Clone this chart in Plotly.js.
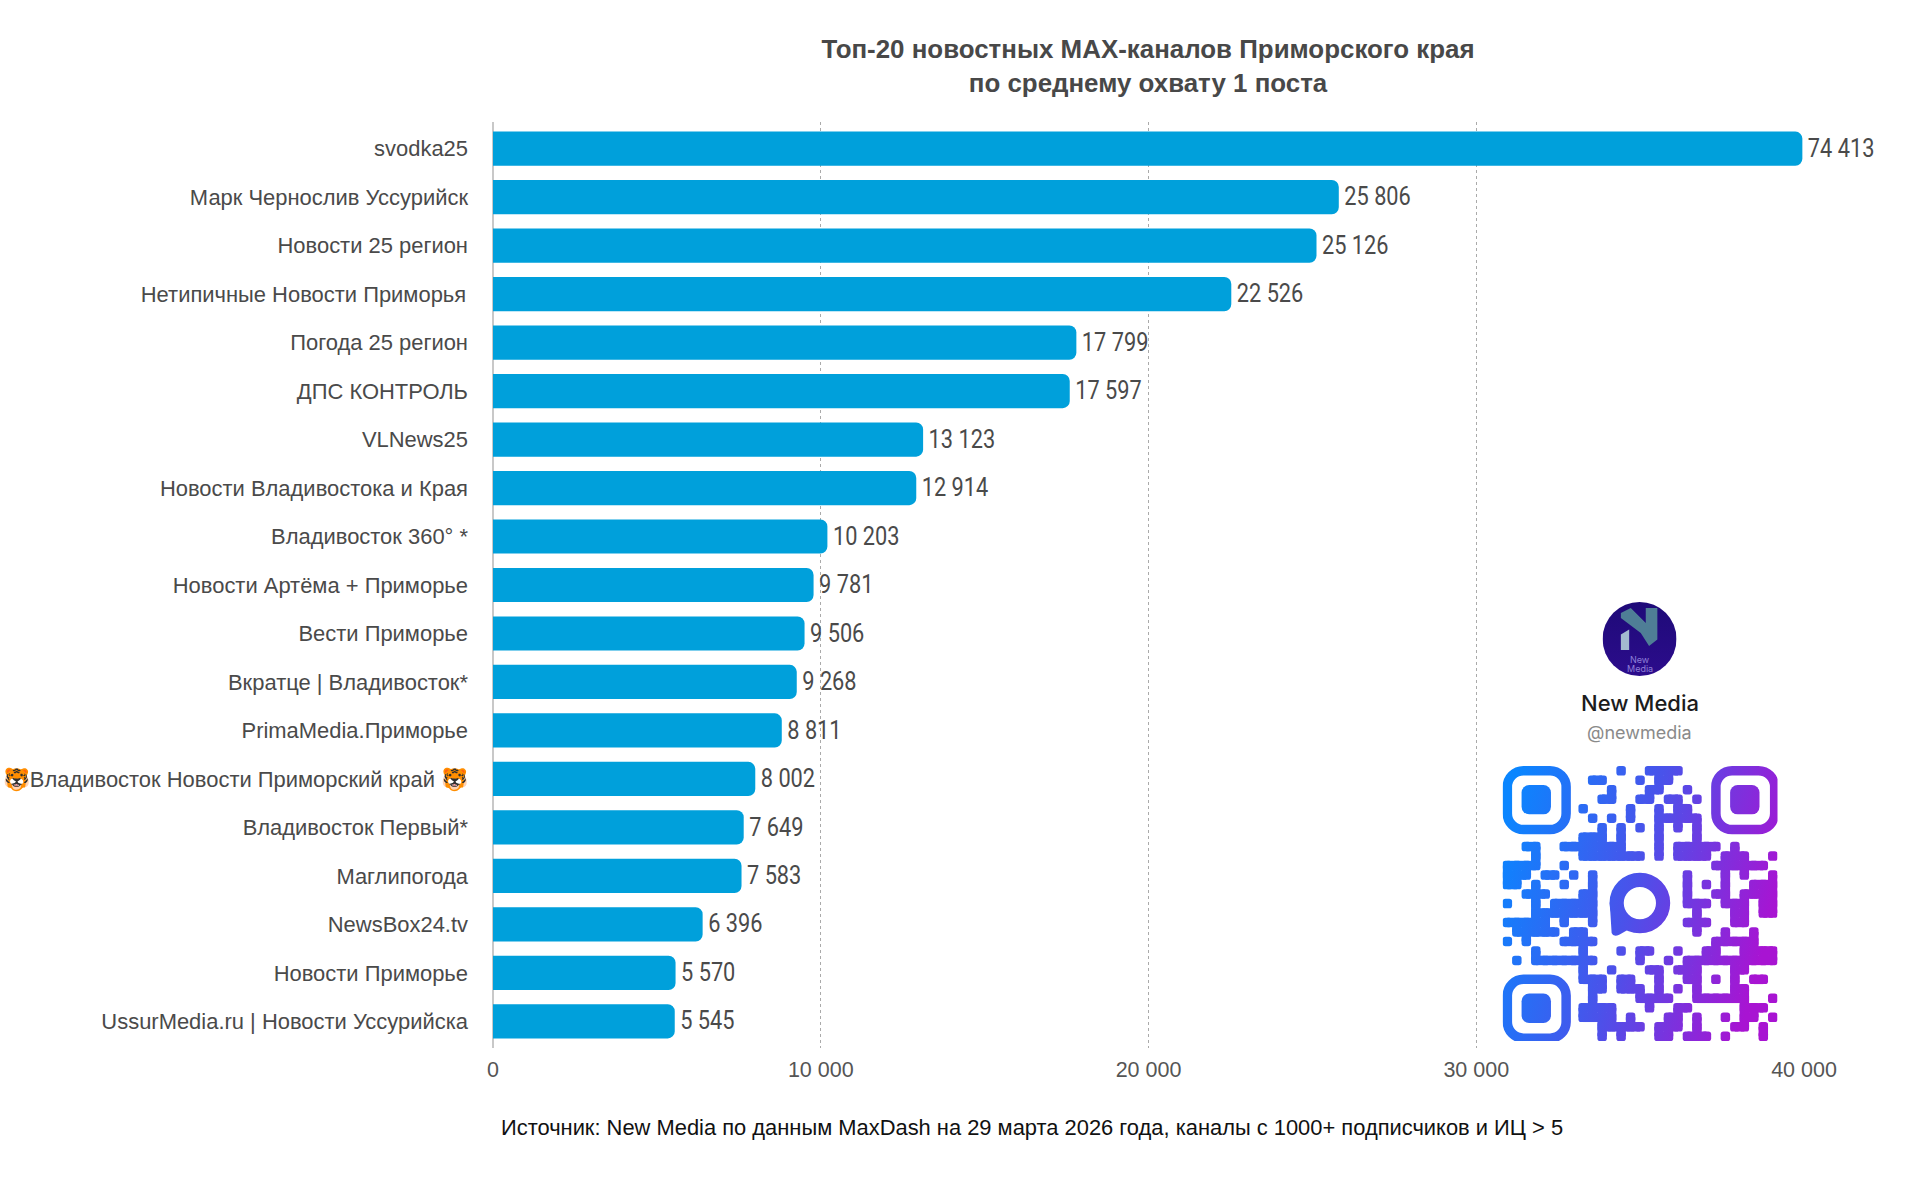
<!DOCTYPE html>
<html><head><meta charset="utf-8">
<script src="https://cdn.plot.ly/plotly-3.0.1.min.js"></script>
<style>html,body{margin:0;padding:0;background:#fff}#c{width:1920px;height:1194px}</style>
</head><body><div id="c"></div>
<script>
var categories = ["svodka25","Марк Чернослив Уссурийск","Новости 25 регион","Нетипичные Новости Приморья\u200A","Погода 25 регион","ДПС КОНТРОЛЬ","VLNews25","Новости Владивостока и Края","Владивосток 360° *","Новости Артёма + Приморье","Вести Приморье","Вкратце | Владивосток*","PrimaMedia.Приморье","🐯Владивосток Новости Приморский край 🐯","Владивосток Первый*","Маглипогода","NewsBox24.tv","Новости Приморье","UssurMedia.ru | Новости Уссурийска"];
var values = [74413,25806,25126,22526,17799,17597,13123,12914,10203,9781,9506,9268,8811,8002,7649,7583,6396,5570,5545];
var axisCap = 39950;
var tickValues = [0,10000,20000,30000,40000];
var tickLabels = ["0","10 000","20 000","30 000","40 000"];
var qrModules = [
[12,15,16,17,18],
[9,10,14,16,17],
[11,15,16,19],
[10,11,14,15,17,18,20],
[8,13,16,18,19],
[9,11,13,16,17,18,19,20],
[10,12,14,16,18,20],
[8,9,10,12,16,20],
[2,3,6,7,8,9,10,11,12,16,18,19,20,21,22,24],
[3,8,9,10,11,12,13,14,16,18,19,20,21,23,24,25,28],
[0,1,2,3,6,22,23,24,25,26,27],
[0,1,2,4,5,7,9,19,23,25,28],
[0,1,3,6,9,19,21,23,26,27,28],
[2,3,4,8,9,19,22,23,25,26,27,28],
[0,3,5,6,7,8,9,19,20,21,23,24,25,27,28],
[3,4,5,6,7,8,9,20,24,25,27,28],
[0,1,2,3,4,6,9,19,20,21,24,25],
[1,2,3,4,5,7,8,20,23,26],
[0,2,6,7,8,9,22,23,24,25,26],
[3,8,12,14,15,18,21,22,25,26,27,28],
[1,3,4,5,6,7,8,9,14,17,19,20,21,22,23,24,25,26,27,28],
[8,11,15,16,18,19,20,24,25],
[8,9,10,12,13,16,19,20,22,24,26,27],
[9,10,12,13,14,16,18,20,24,25],
[9,14,15,16,17,20,21,22,23,24,25,28],
[8,9,10,11,15,18,19,25,26,27],
[8,9,10,11,13,17,18,20,23,25,26,28],
[10,11,12,13,14,16,17,18,20,24,25,27],
[10,12,16,17,19,20,21,23,27]
];
var qrSize = 29;

function qrSvg(){
  var rects = '';
  function on(r,c){ return r>=0 && r<qrSize && qrModules[r].indexOf(c)>=0; }
  for(var r=0;r<qrSize;r++){ for(var c=0;c<qrSize;c++){
    if(!on(r,c)) continue;
    rects += '<rect x="'+c+'" y="'+r+'" width="1" height="1" rx="0.3"/>';
    if(on(r,c+1)) rects += '<rect x="'+(c+0.5)+'" y="'+r+'" width="1" height="1"/>';
    if(on(r+1,c)) rects += '<rect x="'+c+'" y="'+(r+0.5)+'" width="1" height="1"/>';
  }}
  function finder(x,y){
    return '<rect x="'+(x+0.5)+'" y="'+(y+0.5)+'" width="6.2" height="6.2" rx="1.7" fill="none" stroke="url(#g)" stroke-width="1"/>'+
           '<rect x="'+(x+2)+'" y="'+(y+2)+'" width="3.1" height="3.1" rx="0.8"/>';
  }
  var logo = '<circle cx="14.48" cy="14.45" r="2.45" fill="none" stroke="url(#g)" stroke-width="1.5"/>'+
             '<path d="M11.3 14.4 L11.5 17.6 Q11.7 18.1 12.3 17.8 L14.4 16.6 Z"/>';
  var svg = '<svg xmlns="http://www.w3.org/2000/svg" viewBox="0 0 29 29" width="825" height="825">'+
    '<defs><linearGradient id="g" gradientUnits="userSpaceOnUse" x1="0" y1="6" x2="29" y2="14">'+
    '<stop offset="0" stop-color="#0a86ff"/><stop offset="0.5" stop-color="#4a52ea"/><stop offset="1" stop-color="#a814d2"/></linearGradient></defs>'+
    '<g fill="url(#g)">'+rects+finder(0,0)+finder(22,0)+finder(0,22)+logo+'</g></svg>';
  return 'data:image/svg+xml;charset=utf-8,'+encodeURIComponent(svg);
}
function avatarSvg(){
  var svg = '<svg xmlns="http://www.w3.org/2000/svg" viewBox="0 0 74 74" width="296" height="296">'+
    '<defs><linearGradient id="a" x1="0" y1="0" x2="0" y2="1"><stop offset="0" stop-color="#1e0a78"/><stop offset="1" stop-color="#2c0c8c"/></linearGradient></defs>'+
    '<circle cx="37" cy="37" r="37" fill="url(#a)"/>'+
    '<path d="M18.3 11 L28.2 6 L43.2 21 L43.2 6 L54.8 6 L54.8 37.5 L46.5 44 L38.2 31 L18.3 16 Z" fill="#4f7e96"/>'+
    '<path d="M18.3 32.5 L26.6 27.5 L26.6 48 L18.3 48 Z" fill="#a3b9cf"/></svg>';
  return 'data:image/svg+xml;charset=utf-8,'+encodeURIComponent(svg);
}

var L=493,R=1804.5,T=122,B=1048;
function px(x){return (x-L)/(R-L);}
function py(y){return (B-y)/(B-T);}

var shown = values.map(function(v){return Math.min(v,axisCap);});
var labels = values.map(function(v){return String(v).replace(/\B(?=(\d{3})+$)/g,' ');});

var trace = {type:'bar',orientation:'h',y:categories,x:shown,text:labels,
  textposition:'outside',cliponaxis:false,textangle:0,constraintext:'none',
  textfont:{family:'Roboto,sans-serif',size:25,color:'#4a4a4a'},
  marker:{color:'#00a0db',cornerradius:7,line:{width:0}},hoverinfo:'skip'};

function note(text,x,y,size,color,family,weight){
  return {text:text,xref:'paper',yref:'paper',x:px(x),y:py(y),xanchor:'center',yanchor:'middle',showarrow:false,
    font:{family:family||'"Liberation Sans",sans-serif',size:size,color:color,weight:weight||400}};
}

var layout = {
  width:1920,height:1194,paper_bgcolor:'#fff',plot_bgcolor:'#fff',showlegend:false,
  margin:{l:L,r:1920-R,t:T,b:1194-B,pad:0},
  bargap:0.295,
  font:{family:'"Liberation Sans",sans-serif',color:'#4a4a4a'},
  title:{text:'Топ-20 новостных MAX-каналов Приморского края<br>по среднему охвату 1 поста',
    x:1148/1920,xanchor:'center',xref:'container',y:1-58/1194,yanchor:'middle',
    font:{family:'"Liberation Sans",sans-serif',size:25.9,weight:700,color:'#484848'}},
  xaxis:{range:[0,40000],tickvals:tickValues,ticktext:tickLabels,tickmode:'array',
    tickfont:{size:21.5,color:'#555555'},showgrid:true,gridcolor:'#aaaaaa',griddash:'dot',gridwidth:1,
    zeroline:true,zerolinecolor:'#c8c8c8',zerolinewidth:1.5,showline:false,ticks:'',ticklabelstandoff:6,fixedrange:true},
  yaxis:{type:'category',categoryorder:'array',categoryarray:categories,range:[18.55,-0.55],autorange:false,
    tickfont:{size:21.95,color:'#4a4a4a'},showgrid:false,zeroline:false,showline:false,ticks:'',ticklabelstandoff:24,fixedrange:true},
  images:[
    {source:qrSvg(),xref:'paper',yref:'paper',x:px(1503),y:py(766),sizex:275/(R-L),sizey:275/(B-T),xanchor:'left',yanchor:'top',sizing:'stretch',layer:'above'},
    {source:avatarSvg(),xref:'paper',yref:'paper',x:px(1603),y:py(602),sizex:74/(R-L),sizey:74/(B-T),xanchor:'left',yanchor:'top',sizing:'stretch',layer:'above'}
  ],
  annotations:[
    note('Источник: New Media по данным MaxDash на 29 марта 2026 года, каналы с 1000+ подписчиков и ИЦ &gt; 5',1032,1127,21.9,'#111111'),
    note('New Media',1640,703,22,'#1c1c1c','Inter,sans-serif',500),
    note('@newmedia',1640,732,18,'#8a8a8a','Inter,sans-serif'),
    note('New',1640,659,9,'#8f7fd8','Inter,sans-serif'),
    note('Media',1640,668,9,'#8f7fd8','Inter,sans-serif')
  ]
};
Plotly.newPlot('c',[trace],layout,{displayModeBar:false,staticPlot:true}).then(function(gd){
  // the reference's value labels use a condensed face: narrow the real text in place
  var narrow = 0.87, gap = 2.5, lift = 0.4;
  gd.querySelectorAll('.bars .bartext, .bars text').forEach(function(t){
    var w = t.getComputedTextLength();
    var x = parseFloat(t.getAttribute('x')) || 0, y = parseFloat(t.getAttribute('y')) || 0;
    t.setAttribute('textLength', (w*narrow).toFixed(2));
    t.setAttribute('lengthAdjust', 'spacingAndGlyphs');
    t.setAttribute('x', (x - w*(1-narrow)/2 + gap).toFixed(2));
    t.setAttribute('y', (y - lift).toFixed(2));
  });
});
</script></body></html>
